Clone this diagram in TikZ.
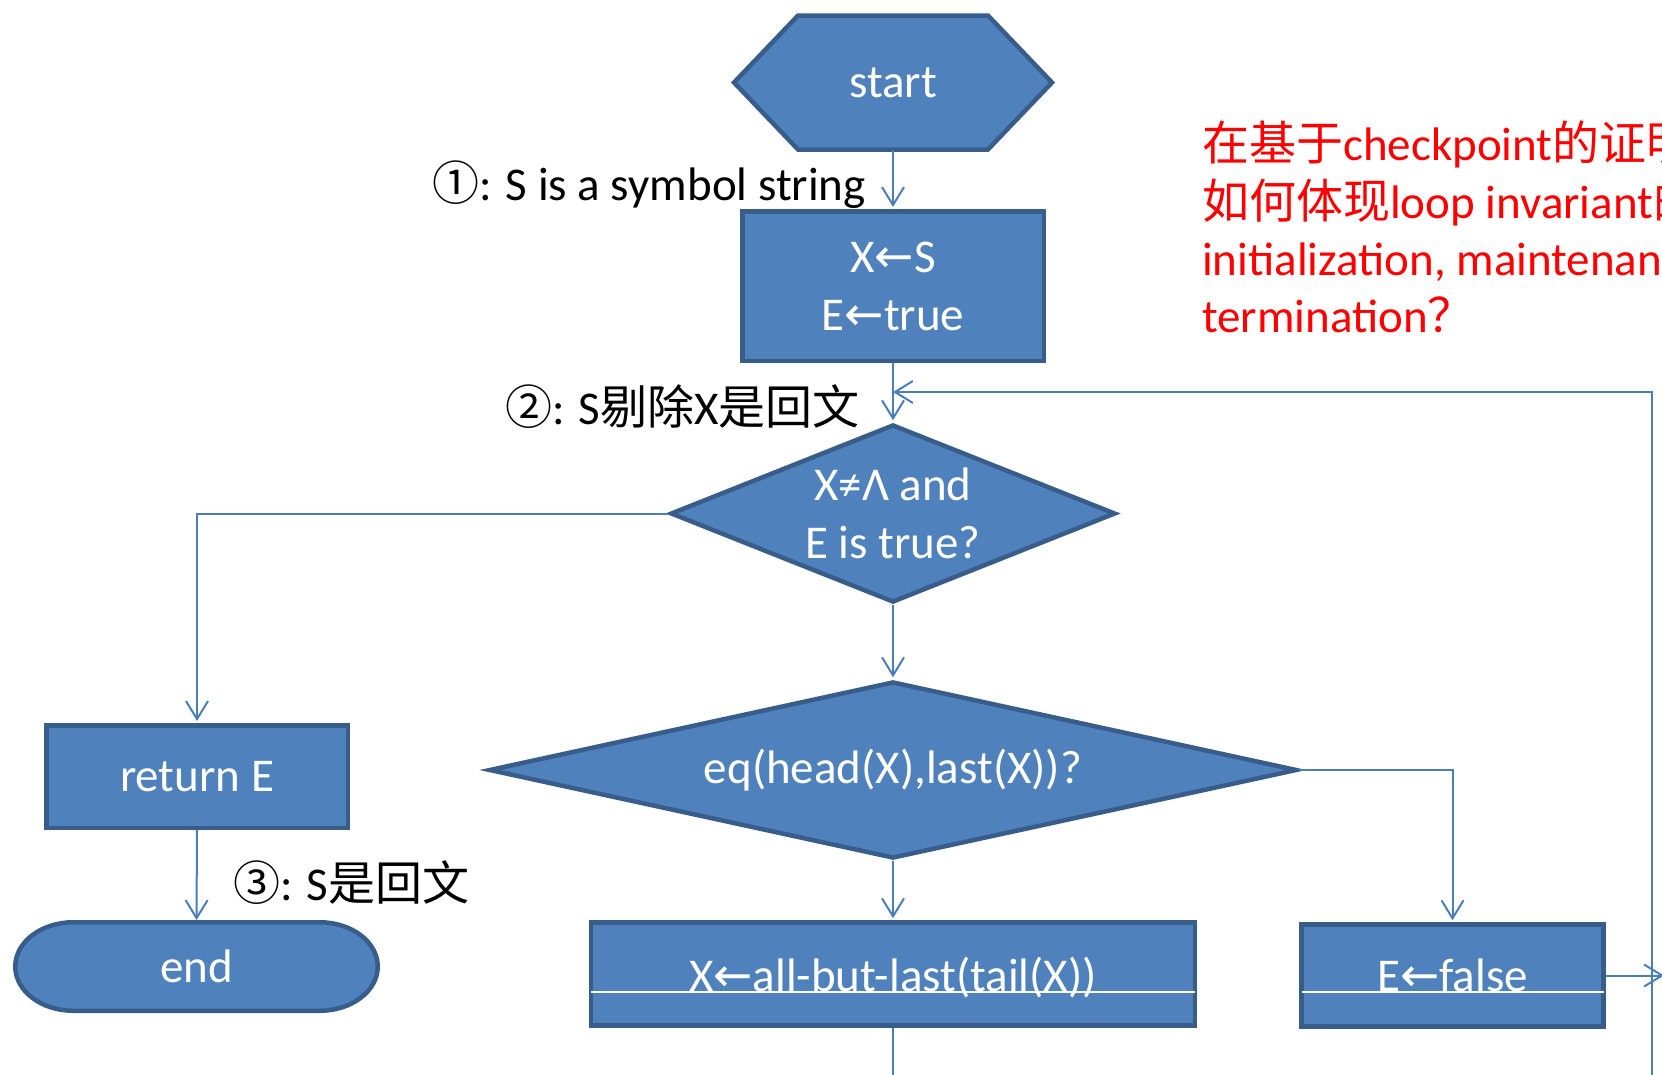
\documentclass[tikz,border=0pt]{standalone}
\usepackage{fontspec}
\setmainfont{Carlito}
\newfontfamily\cjk{Noto Sans CJK SC}
\newfontfamily\arrowglyphs{DejaVu Sans}
\usetikzlibrary{arrows.meta,shapes.geometric,calc}
\newcommand{\assignarrow}{{\arrowglyphs ←}}
\definecolor{boxfill}{HTML}{4F81BD}
\definecolor{boxline}{HTML}{385D8A}
\definecolor{wirecol}{HTML}{4A7EBB}
\tikzset{
  every node/.style={font=\fontsize{47}{58}\selectfont},
  procbox/.style={rectangle, fill=boxfill, draw=boxline, line width=4.5pt,
    text=white, inner sep=0pt, align=center},
  decision/.style={diamond, fill=boxfill, draw=boxline, line width=4.5pt,
    text=white, inner sep=0pt, align=center},
  termshape/.style={fill=boxfill, draw=boxline, line width=4.5pt},
  ghost/.style={rectangle, inner sep=0pt, text=white},
  conn/.style={draw=wirecol, line width=2pt},
  connarrow/.style={conn, -{Straight Barb[length=18pt,width=22pt]}, shorten >=2pt},
  blacklbl/.style={text=black, inner sep=0pt},
  redlbl/.style={text=red, inner sep=0pt, anchor=base west},
  strike/.style={draw=white, line width=1.5pt},
}
\begin{document}
\begin{tikzpicture}[x=1pt, y=-1pt]
\useasboundingbox (0,0) rectangle (1662,1074);
\clip (0,0) rectangle (1662,1074);

% start terminal (hexagon)
\coordinate (startc) at (893,82.5);
\path[termshape] ($(startc)+(-159,0)$) -- ($(startc)+(-95,-67)$) -- ($(startc)+(95,-67)$)
  -- ($(startc)+(159,0)$) -- ($(startc)+(95,67)$) -- ($(startc)+(-95,67)$) -- cycle;
\node[ghost, minimum width=318, minimum height=134] (start) at (startc) {start};

% end terminal (stadium with elliptic caps)
\coordinate (endc) at (196.5,966.5);
\path[termshape] ($(endc)+(-123.25,-44.25)$) -- ($(endc)+(123.25,-44.25)$)
  arc[start angle=-90, end angle=90, x radius=58, y radius=44.25]
  -- ($(endc)+(-123.25,44.25)$)
  arc[start angle=90, end angle=270, x radius=58, y radius=44.25] -- cycle;
\node[ghost, minimum width=362.5, minimum height=88.5] (endn) at (endc) {end};

% process boxes
\node[procbox, minimum width=301.5, minimum height=149.5] (init) at (893,286)
  {X\assignarrow S\\E\assignarrow true};
\node[procbox, minimum width=301.5, minimum height=102.5] (ret) at (197,776.5) {return E};
\node[procbox, minimum width=604, minimum height=103, text depth=0pt] (shrink) at (893,974)
  {X\assignarrow all-but-last(tail(X))};
\node[procbox, minimum width=302, minimum height=102] (efalse) at (1452.5,975.5)
  {E\assignarrow false};

% decisions
\node[decision, aspect=2.5, minimum width=445, minimum height=178] (loopcond) at (893,513.5)
  {X≠Λ and\\E is true?};
\node[decision, aspect=4.5, minimum width=808, minimum height=177] (eqtest) at (893,770)
  {eq(head(X),last(X))?};

% thin white rules across the lower boxes
\draw[strike] ($(shrink.west)+(2.25,18)$) -- ($(shrink.east)+(-2.25,18)$);
\draw[strike] ($(efalse.west)+(2.25,16.5)$) -- ($(efalse.east)+(-2.25,16.5)$);

% free ends of the connectors
\coordinate (merge) at (893,392);
\coordinate (backtop) at (1652,392);
\coordinate (backbot) at (1652,1080);
\coordinate (shrinkout) at (893,1080);
\coordinate (falseout) at (1664,975.5);

% connectors
\draw[connarrow] (start.south) -- (init.north);
\draw[connarrow] (init.south) -- (loopcond.north);
\draw[connarrow, shorten >=0pt] (backbot) -- (backtop) -- (merge);
\draw[connarrow] (loopcond.west) -| (ret.north);
\draw[connarrow] (ret.south) -- (endn.north);
\draw[connarrow] (loopcond.south) -- (eqtest.north);
\draw[connarrow] (eqtest.south) -- (shrink.north);
\draw[connarrow] (eqtest.east) -| (efalse.north);
\draw[conn] (shrink.south) -- (shrinkout);
\draw[connarrow, shorten >=0pt] (efalse.east) -- (falseout);

% checkpoint labels
\node[blacklbl, anchor=base east] (cp1) at (866,200) {{\cjk ①}: S is a symbol string};
\node[blacklbl, anchor=base east] (cp2) at (860,424) {{\cjk ②}: S{\cjk 剔除}X{\cjk 是回文}};
\node[blacklbl, anchor=base west] (cp3) at (233,900) {{\cjk ③}: S{\cjk 是回文}};

% question in red
\node[redlbl] (q1) at (1202,160) {{\cjk 在基于}checkpoint{\cjk 的证明中}};
\node[redlbl] (q2) at (1202,218) {{\cjk 如何体现}loop invariant{\cjk 的}};
\node[redlbl] (q3) at (1202,275) {initialization, maintenance};
\node[redlbl] (q4) at (1202,332) {termination{\cjk ？}};
\end{tikzpicture}
\end{document}
